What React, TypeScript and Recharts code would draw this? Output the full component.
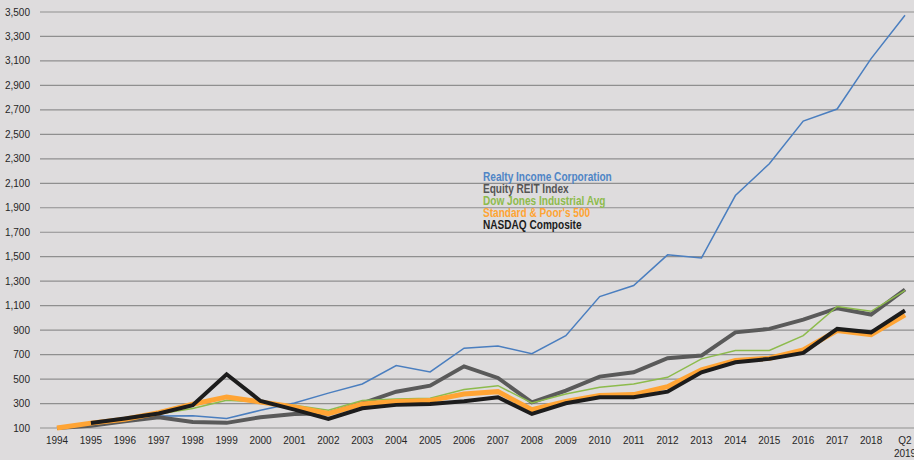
import React from "react";
import {
  LineChart,
  Line,
  XAxis,
  YAxis,
  CartesianGrid,
} from "recharts";

const years = [
  "1994", "1995", "1996", "1997", "1998", "1999", "2000", "2001", "2002",
  "2003", "2004", "2005", "2006", "2007", "2008", "2009", "2010", "2011",
  "2012", "2013", "2014", "2015", "2016", "2017", "2018", "Q2 2019",
];

const realtyIncome = [
  100, 130, 155, 198, 200, 177, 245, 305, 385, 460, 610, 558, 752, 770, 708,
  855, 1174, 1264, 1515, 1490, 2000, 2260, 2608, 2707, 3119, 3473,
];
const equityReit = [
  100, 118, 155, 188, 150, 142, 188, 215, 220, 302, 397, 446, 604, 509, 310,
  405, 520, 555, 670, 692, 882, 910, 986, 1079, 1027, 1232,
];
const dowJones = [
  100, 135, 165, 215, 259, 327, 313, 286, 245, 324, 338, 343, 414, 446, 305,
  378, 433, 460, 514, 665, 733, 733, 855, 1093, 1054, 1224,
];
const sp500 = [
  100, 140, 172, 225, 294, 354, 313, 272, 218, 296, 316, 324, 378, 397, 250,
  318, 365, 373, 438, 575, 651, 670, 738, 896, 863, 1025,
];
const nasdaq = [
  null, 141, 177, 218, 286, 539, 321, 250, 174, 261, 289, 297, 318, 351, 215,
  302, 351, 351, 397, 555, 637, 665, 714, 910, 882, 1060,
];

const yTicks = [
  100, 300, 500, 700, 900, 1100, 1300, 1500, 1700, 1900, 2100, 2300, 2500,
  2700, 2900, 3100, 3300, 3500,
];

const series = [
  { key: "realty", name: "Realty Income Corporation", color: "#4a7ebf", text: "#4f85c6", width: 1.5 },
  { key: "reit", name: "Equity REIT Index", color: "#5a5a5a", text: "#555555", width: 4 },
  { key: "dow", name: "Dow Jones Industrial Avg", color: "#8dbb4c", text: "#8dbb4c", width: 1.5 },
  { key: "sp", name: "Standard & Poor's 500", color: "#ffa434", text: "#ffa434", width: 5 },
  { key: "nasdaq", name: "NASDAQ Composite", color: "#1c1c1c", text: "#1c1c1c", width: 4 },
];

const data = years.map((year, i) => ({
  year,
  realty: realtyIncome[i],
  reit: equityReit[i],
  dow: dowJones[i],
  sp: sp500[i],
  nasdaq: nasdaq[i],
}));

const labelFont = "'Liberation Sans', Arial, sans-serif";

function YearTick({ x, y, payload }: any) {
  const parts = String(payload.value).split(" ");
  return (
    <text
      x={x}
      y={y}
      textAnchor="middle"
      fontFamily={labelFont}
      fontSize={10}
      fill="#262626"
    >
      {parts.map((p, i) => (
        <tspan key={i} x={x} dy={i === 0 ? 8 : 13}>
          {p}
        </tspan>
      ))}
    </text>
  );
}

export default function App() {
  return (
    <div
      style={{
        position: "absolute",
        top: 0,
        left: 0,
        width: 914,
        height: 460,
        background: "#dedcdd",
        overflow: "hidden",
      }}
    >
      <LineChart
        width={914}
        height={460}
        data={data}
        margin={{ top: 12, right: 0, bottom: 0, left: 0 }}
      >
        <CartesianGrid vertical={false} stroke="#8f8f8f" strokeWidth={1.2} />
        <XAxis
          dataKey="year"
          axisLine={false}
          tickLine={false}
          interval={0}
          height={32}
          padding={{ left: 17, right: 9 }}
          tick={<YearTick />}
        />
        <YAxis
          domain={[100, 3500]}
          ticks={yTicks}
          axisLine={false}
          tickLine={false}
          width={40}
          tickMargin={4}
          tickFormatter={(v: number) => v.toLocaleString("en-US")}
          tick={{ fontSize: 10, fill: "#262626", fontFamily: labelFont }}
        />
        {series.map((s) => (
          <Line
            key={s.key}
            type="linear"
            dataKey={s.key}
            name={s.name}
            stroke={s.color}
            strokeWidth={s.width}
            dot={false}
            isAnimationActive={false}
          />
        ))}
      </LineChart>
      <div
        style={{
          position: "absolute",
          left: 483,
          top: 171,
          fontFamily: labelFont,
          fontWeight: 700,
          fontSize: 13,
          lineHeight: "12px",
          whiteSpace: "nowrap",
          transform: "scaleX(0.775)",
          transformOrigin: "left top",
        }}
      >
        {series.map((s) => (
          <div key={s.key} style={{ color: s.text }}>
            {s.name}
          </div>
        ))}
      </div>
    </div>
  );
}
